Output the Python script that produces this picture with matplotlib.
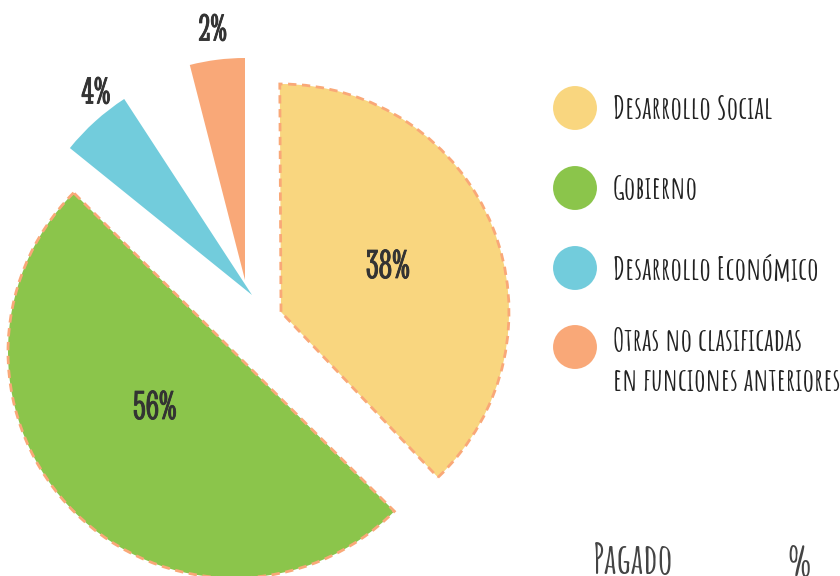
import matplotlib
matplotlib.use("Agg")
import matplotlib.pyplot as plt
import matplotlib.patheffects as pe

# ---- data ----
categories = ["Desarrollo Social", "Gobierno", "Desarrollo Económico",
              "Otras no clasificadas\nen funciones anteriores"]
pct_labels = ["38%", "56%", "4%", "2%"]
drawn_share = [38, 50, 5, 4]          # share of the circle each wedge occupies
colors = ["#F9D67F", "#8BC54B", "#72CCDC", "#F9A878"]
table_header = ["Pagado", "%"]

# ---- layout / style (positions in pixel-like data units, y up) ----
W, H = 840, 576
centers = [(281, 264), (234, 224), (252, 281), (245, 296)]
start_angles = [-46.5, 135.2, 123.1, 90.0]
radii = [228, 226, 234, 222]
edge_dashed = [True, True, False, False]
label_pos = [(388, 308), (155, 167), (96, 482), (213, 545)]
label_size = [30, 30, 28, 28]

pct_font = ["Stint Ultra Condensed", "DejaVu Serif"]
leg_font = ["Amatic SC", "DejaVu Sans"]

fig = plt.figure(figsize=(W / 100, H / 100), dpi=100)
ax = fig.add_axes([0, 0, 1, 1])

edge_col = "#F9A878"
for share, c, ctr, sa, r, dashed in zip(drawn_share, colors, centers,
                                         start_angles, radii, edge_dashed):
    wp = dict(linewidth=2.0 if dashed else 0, edgecolor=edge_col if dashed else c,
              linestyle=(0, (3, 2)) if dashed else "-")
    ax.pie([share / 100], colors=[c], normalize=False, startangle=sa,
           counterclock=True, center=ctr, radius=r, wedgeprops=wp)

for txt, (x, y), fsz in zip(pct_labels, label_pos, label_size):
    ax.text(x, y, txt, ha="center", va="center", fontsize=fsz,
            family=pct_font, color="#333333",
            path_effects=[pe.withStroke(linewidth=0.6, foreground="#333333")])

# legend
leg_y = [468, 388, 308, 229]
for c, t, y in zip(colors, categories, leg_y):
    ax.scatter([575], [y], s=1000, color=c, edgecolors="none", zorder=3)
    if "\n" in t:
        ax.text(613, y + 20, t, ha="left", va="top", fontsize=23,
                family=leg_font, fontweight="bold", color="#222222",
                linespacing=1.85)
    else:
        ax.text(613, y, t, ha="left", va="center", fontsize=23,
                family=leg_font, fontweight="bold", color="#222222")

# table header cut at the bottom
ax.text(593, 34, table_header[0], ha="left", va="top", fontsize=30,
        family=leg_font, fontweight="bold", color="#444444")
ax.text(799, 30, table_header[1], ha="center", va="top", fontsize=30,
        family=leg_font, fontweight="bold", color="#444444")

ax.set_xlim(0, W)
ax.set_ylim(0, H)
ax.set_aspect("equal")
ax.axis("off")
fig.savefig("out.png", dpi=100)
